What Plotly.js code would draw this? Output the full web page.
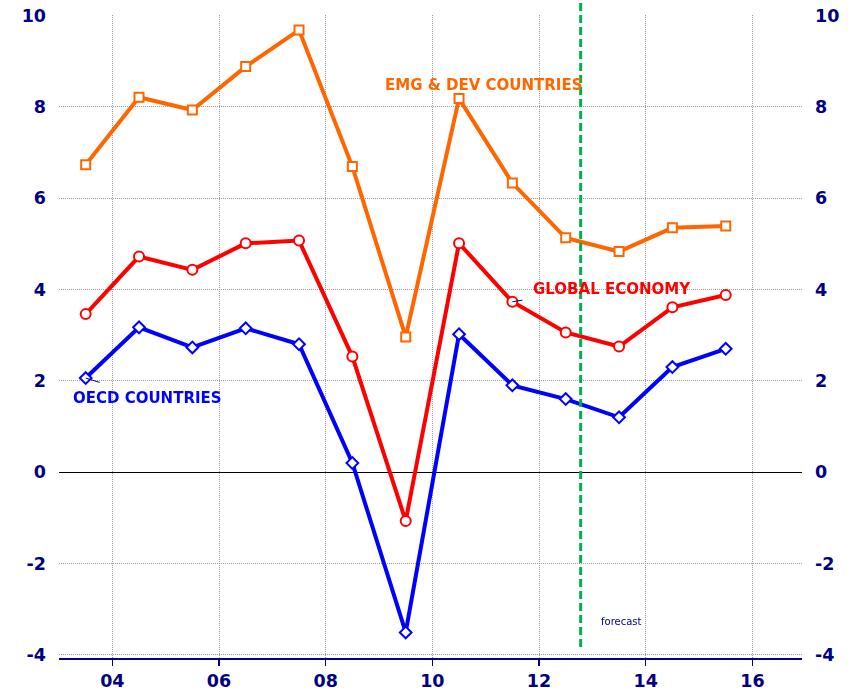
<!DOCTYPE html>
<html>
<head>
<meta charset="utf-8">
<script src="https://cdn.plot.ly/plotly-3.0.1.min.js"></script>
<style>html,body{margin:0;padding:0;background:#fff}#chart{width:859px;height:693px}</style>
</head>
<body>
<div id="chart"></div>
<script>
// Data
var years = [2003.5, 2004.5, 2005.5, 2006.5, 2007.5, 2008.5, 2009.5, 2010.5, 2011.5, 2012.5, 2013.5, 2014.5, 2015.5];
var emgDev = [6.73, 8.21, 7.93, 8.88, 9.68, 6.69, 2.96, 8.18, 6.33, 5.13, 4.83, 5.35, 5.39];
var globalEconomy = [3.46, 4.72, 4.43, 5.01, 5.07, 2.53, -1.07, 5.01, 3.73, 3.06, 2.75, 3.61, 3.88];
var oecd = [2.06, 3.17, 2.73, 3.15, 2.80, 0.20, -3.51, 3.02, 1.90, 1.60, 1.20, 2.30, 2.70];
var xTickVals = [2004, 2006, 2008, 2010, 2012, 2014, 2016];
var xTickText = ['04', '06', '08', '10', '12', '14', '16'];
var yTickVals = [-4, -2, 0, 2, 4, 6, 8, 10];
var yTickText = ['-4', '-2', '0', '2', '4', '6', '8', '10'];
var forecastStart = 2012.78;

var navy = '#000080';
var tickFont = {family: 'DejaVu Sans', size: 17.5, color: navy, weight: 'bold'};

function series(y, color, symbol, size, yaxis) {
  return {
    x: years, y: y, type: 'scatter', mode: 'lines+markers', yaxis: yaxis || 'y',
    line: {color: color, width: 4},
    marker: {symbol: symbol, size: size, color: '#ffffff', line: {color: color, width: 2}},
    hoverinfo: 'skip', showlegend: false
  };
}

var traces = [
  series(emgDev, '#FF6600', 'square', 9),
  series(globalEconomy, '#FF0000', 'circle', 10),
  series(oecd, '#0000FF', 'diamond', 9),
  {x: years, y: oecd, type: 'scatter', mode: 'markers', yaxis: 'y2', opacity: 0,
   marker: {size: 1}, hoverinfo: 'skip', showlegend: false}
];

var labelFont = function (c) { return {family: 'DejaVu Sans', size: 15, color: c, weight: 'bold'}; };

var gridStyle = {showgrid: true, gridcolor: '#9a9a9a', griddash: '1px,1px', gridwidth: 1};

var layout = {
  width: 859, height: 693,
  margin: {l: 59, r: 57, t: 15, b: 35},
  paper_bgcolor: '#ffffff', plot_bgcolor: '#ffffff',
  showlegend: false,
  xaxis: Object.assign({
    range: [2003.0, 2016.93], tickmode: 'array', tickvals: xTickVals, ticktext: xTickText,
    showline: true, linecolor: navy, linewidth: 2,
    ticks: 'outside', ticklen: 6, tickwidth: 1.5, tickcolor: navy,
    tickfont: tickFont, zeroline: false, fixedrange: true
  }, gridStyle),
  yaxis: Object.assign({
    range: [-4.07, 10.01], tickmode: 'array', tickvals: yTickVals, ticktext: yTickText,
    zeroline: true, zerolinecolor: '#000000', zerolinewidth: 1,
    showline: false, ticks: '', ticklabelstandoff: 12,
    tickfont: tickFont, fixedrange: true
  }, gridStyle),
  yaxis2: {
    range: [-4.07, 10.01], tickmode: 'array', tickvals: yTickVals, ticktext: yTickText,
    overlaying: 'y', side: 'right', anchor: 'x',
    showgrid: false, zeroline: false, showline: false, ticks: '', ticklabelstandoff: 12,
    tickfont: tickFont, fixedrange: true
  },
  shapes: [{
    type: 'line', xref: 'x', yref: 'paper', x0: forecastStart, x1: forecastStart,
    y0: 0.017, y1: 1.025, line: {color: '#00B050', width: 3, dash: '8px,4px'}
  }],
  annotations: [
    {x: 2010.96, y: 8.48, xref: 'x', yref: 'y', text: 'EMG &amp; DEV COUNTRIES', showarrow: false,
     xanchor: 'center', yanchor: 'middle', font: labelFont('#FF6600')},
    {x: 2013.36, y: 4.0, xref: 'x', yref: 'y', text: 'GLOBAL ECONOMY', showarrow: false,
     xanchor: 'center', yanchor: 'middle', font: labelFont('#FF0000')},
    {x: 2004.65, y: 1.62, xref: 'x', yref: 'y', text: 'OECD COUNTRIES', showarrow: false,
     xanchor: 'center', yanchor: 'middle', font: labelFont('#0000FF')},
    {x: 2013.55, y: -3.26, xref: 'x', yref: 'y', text: 'forecast', showarrow: false,
     xanchor: 'center', yanchor: 'middle', font: {family: 'DejaVu Sans', size: 10, color: navy}},
    {x: years[8], y: globalEconomy[8], xref: 'x', yref: 'y', text: ' ', showarrow: true,
     arrowhead: 0, arrowwidth: 1, arrowcolor: navy, ax: 12, ay: -2, standoff: 0, borderpad: 0},
    {x: years[0], y: oecd[0], xref: 'x', yref: 'y', text: ' ', showarrow: true,
     arrowhead: 0, arrowwidth: 1, arrowcolor: navy, ax: 16, ay: 5, standoff: 0, borderpad: 0}
  ]
};

Plotly.newPlot('chart', traces, layout, {staticPlot: true, displayModeBar: false});
</script>
</body>
</html>
